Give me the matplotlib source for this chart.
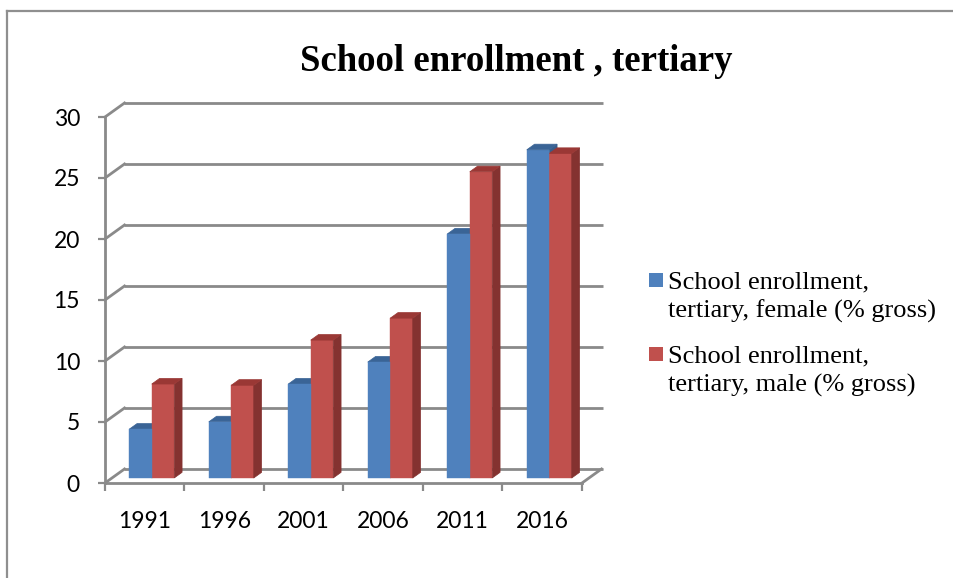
import matplotlib
matplotlib.use("Agg")
import matplotlib.pyplot as plt
from matplotlib.patches import Polygon, Rectangle
from matplotlib.lines import Line2D

# ---- data ----
years = ["1991", "1996", "2001", "2006", "2011", "2016"]
female = [4.0, 4.6, 7.7, 9.5, 20.0, 26.9]
male = [7.7, 7.6, 11.3, 13.1, 25.1, 26.6]
series_names = ["School enrollment,\ntertiary, female (% gross)",
                "School enrollment,\ntertiary, male (% gross)"]
title = "School enrollment , tertiary"
yticks = [0, 5, 10, 15, 20, 25, 30]

# ---- style ----
W, H = 954, 578
fig = plt.figure(figsize=(W / 100, H / 100), dpi=100)
fig.patch.set_facecolor("white")

def fx(px):
    return px / W

def fy(py):
    return 1 - py / H

# axes front plane: x -0.5..5.5 -> px 105..582 ; y 0..30 -> px 483..117
ax = fig.add_axes([fx(105), fy(483), fx(582) - fx(105), fy(117) - fy(483)])
n = len(years)
ax.set_xlim(-0.5, n - 0.5)
ax.set_ylim(0, 30)
ax.set_facecolor("none")

grid_c = "#8a8a8a"
axis_c = "#8a8a8a"
# depth offsets (3D oblique projection), in data units
ox = 19.5 / 79.5
oy = 14.0 / 12.2

# back-wall gridlines + left-wall diagonals
for v in yticks:
    ax.add_line(Line2D([-0.5 + ox, n - 0.5 + ox + 0.02], [v + oy, v + oy],
                       color=grid_c, lw=2.0, zorder=1, clip_on=False,
                       solid_capstyle="butt"))
    ax.add_line(Line2D([-0.5, -0.5 + ox], [v, v + oy], color=grid_c, lw=2.0,
                       zorder=1, clip_on=False))
# floor right edge
ax.add_line(Line2D([n - 0.5, n - 0.5 + ox], [0, oy], color=grid_c, lw=2.0,
                   zorder=1, clip_on=False))

# bars
blue, blue_top, blue_side = "#4F81BD", "#3A6496", "#385D8A"
red, red_top, red_side = "#C0504D", "#9A3835", "#843230"
zf = 0.36
dz = 0.40
bw = 0.283
sx, sy = zf * ox, zf * oy
dx, dy = dz * ox, dz * oy

def side_poly(x0, v, c):
    x1 = x0 + bw
    return Polygon([(x1 + sx, sy), (x1 + sx + dx, sy + dy),
                    (x1 + sx + dx, v + sy + dy), (x1 + sx, v + sy)],
                   closed=True, facecolor=c, edgecolor=c, lw=0.5, zorder=3,
                   clip_on=False)

def top_poly(x0, v, c):
    x1 = x0 + bw
    return Polygon([(x0 + sx, v + sy), (x1 + sx, v + sy),
                    (x1 + sx + dx, v + sy + dy), (x0 + sx + dx, v + sy + dy)],
                   closed=True, facecolor=c, edgecolor=c, lw=0.5, zorder=3,
                   clip_on=False)

for i in range(n):
    xf = i - bw
    xm = i
    vf, vm = female[i], male[i]
    ax.add_patch(side_poly(xf, vf, blue_side))
    if vf <= vm:
        ax.add_patch(top_poly(xf, vf, blue_top))
    ax.bar(xm + sx, vm, width=bw, bottom=sy, align="edge", color=red,
           edgecolor=red, lw=0.3, zorder=4, clip_on=False)
    p = side_poly(xm, vm, red_side); p.set_zorder(4); ax.add_patch(p)
    p = top_poly(xm, vm, red_top); p.set_zorder(4); ax.add_patch(p)
    ax.bar(xf + sx, vf, width=bw, bottom=sy, align="edge", color=blue,
           edgecolor=blue, lw=0.3, zorder=5, clip_on=False)
    if vf > vm:
        p = top_poly(xf, vf, blue_top); p.set_zorder(5); ax.add_patch(p)

# axes / spines
for s in ["top", "right"]:
    ax.spines[s].set_visible(False)
for s in ["left", "bottom"]:
    ax.spines[s].set_color(axis_c)
    ax.spines[s].set_linewidth(2.0)
    ax.spines[s].set_zorder(6)

tick_font = "Lato"
ax.set_yticks(yticks)
ax.set_yticklabels([str(t) for t in yticks], fontfamily=tick_font, fontsize=16.5)
ax.tick_params(axis="y", length=5, width=1.6, color=axis_c, pad=13)

ax.set_xticks([i - 0.5 for i in range(n + 1)])
ax.set_xticklabels([])
ax.set_xticks(list(range(n)), minor=True)
ax.set_xticklabels(years, minor=True, fontfamily=tick_font, fontsize=16.5)
ax.tick_params(axis="x", which="major", length=6, width=1.6, color=axis_c)
ax.tick_params(axis="x", which="minor", length=0, pad=20)

# title
fig.text(fx(516), fy(71), title, ha="center", va="baseline",
         fontfamily="Liberation Serif", fontweight="bold", fontsize=26.5)

# legend (manual)
leg_font = dict(fontfamily="Liberation Serif", fontsize=19)
entries = [(blue, 273), (red, 347)]
for (c, top), name in zip(entries, series_names):
    fig.add_artist(Rectangle((fx(649), fy(top + 14)), fx(14), 14 / H,
                             transform=fig.transFigure, facecolor=c,
                             edgecolor="none"))
    for k, line in enumerate(name.split("\n")):
        fig.text(fx(668), fy(top + 15 + 30 * k), line, ha="left",
                 va="baseline", **leg_font)

# outer frame
frame_c = "#8f8f8f"
fig.add_artist(Line2D([fx(7), fx(7)], [fy(11), 0], transform=fig.transFigure,
                      color=frame_c, lw=1.6))
fig.add_artist(Line2D([fx(7), 1], [fy(11), fy(11)], transform=fig.transFigure,
                      color=frame_c, lw=1.6))

fig.savefig("out.png", dpi=100, facecolor="white")
